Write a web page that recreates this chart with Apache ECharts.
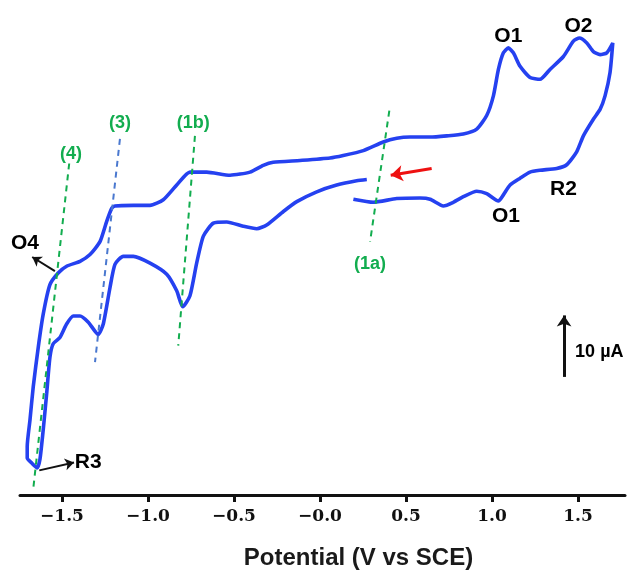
<!DOCTYPE html>
<html>
<head>
<meta charset="utf-8">
<script src="https://cdn.jsdelivr.net/npm/echarts@6/dist/echarts.min.js"></script>
<style>
html,body{margin:0;padding:0;background:#fff;}
#chart{width:628px;height:575px;}
</style>
</head>
<body>
<div id="chart"></div>
<script>
// ---- Data (Potential in V vs SCE, current in µA, arbitrary offset) ----
// Scan 1: from start (~0.2 V) anodic to the switching potential
const scanAnodicPotential = [0.194,0.310,0.446,0.581,0.640,0.717,0.775,0.833,0.911,0.969,1.037,1.066,1.105,1.163,1.221,1.279,1.376,1.434,1.492,1.531,1.589,1.628,1.657,1.686,1.702];
const scanAnodicCurrent   = [48.1,47.6,48.2,48.3,48.1,47.0,47.6,48.5,49.4,49.0,47.8,48.8,50.4,51.5,52.5,52.8,53.1,53.7,55.8,58.4,61.1,62.7,64.9,68.7,73.5];
// Scan 2: upper branch back to the negative limit
const scanCathodicPotential = [1.667,1.628,1.589,1.551,1.508,1.473,1.415,1.337,1.279,1.221,1.163,1.124,1.095,1.066,1.037,1.008,0.969,0.911,0.833,0.737,0.640,0.523,0.446,0.368,0.252,0.135,0.058,-0.116,-0.272,-0.330,-0.407,-0.523,-0.659,-0.756,-0.833,-0.911,-0.988,-1.085,-1.192,-1.211,-1.240,-1.279,-1.337,-1.395,-1.473,-1.522,-1.570,-1.609,-1.638,-1.667,-1.686,-1.702,-1.702,-1.676,-1.644];
const scanCathodicCurrent   = [71.9,71.6,72.1,73.5,74.3,73.8,71.3,69.2,67.6,67.9,69.7,71.9,72.7,71.9,69.2,64.9,61.7,59.5,58.7,58.4,58.2,58.2,58.0,57.4,56.0,55.2,54.8,54.4,54.1,53.6,52.5,52.0,52.5,52.5,50.4,48.0,47.1,47.1,47.0,46.6,44.5,41.2,39.1,38.0,37.2,36.1,34.2,29.4,24.0,17.6,12.2,7.9,6.0,5.2,4.4];
// Scan 3: inner branch back towards the start
const scanReturnPotential = [-1.628,-1.609,-1.589,-1.570,-1.551,-1.512,-1.473,-1.434,-1.395,-1.347,-1.289,-1.260,-1.221,-1.192,-1.144,-1.085,-0.988,-0.891,-0.833,-0.798,-0.756,-0.717,-0.678,-0.620,-0.542,-0.446,-0.368,-0.310,-0.213,-0.135,-0.019,0.097,0.213,0.272];
const scanReturnCurrent   = [5.8,10.6,16.5,22.4,24.6,25.6,27.8,29.1,29.1,28.1,26.1,27.8,33.7,37.5,38.8,38.8,37.7,35.9,33.2,30.6,32.4,37.7,42.1,44.2,44.4,43.7,43.3,43.9,46.1,47.7,49.3,50.4,51.1,51.3];

const tickValues = [-1.5,-1.0,-0.5,0.0,0.5,1.0,1.5];
const tickLabels = ['\u22121.5','\u22121.0','\u22120.5','\u22120.0','0.5','1.0','1.5'];
const xTitle = 'Potential (V vs SCE)';

// Annotation texts: [potential, current, text]
const peakLabels = [[1.095,74.6,'O1'],[1.502,76.2,'O2'],[1.081,45.3,'O1'],[1.415,49.8,'R2'],[-1.715,41.0,'O4'],[-1.347,5.3,'R3']];
const processLabels = [[-1.448,55.5,'(4)'],[-1.163,60.5,'(3)'],[-0.737,60.5,'(1b)'],[0.291,37.5,'(1a)']];
const scaleLabel = [1.483,23.2,'10 \u00b5A'];
// Guide lines: [[V1,I1],[V2,I2]]
const guide4  = [[-1.458,53.9],[-1.667,1.0]];
const guide3  = [[-1.163,57.9],[-1.308,21.6]];
const guide1b = [[-0.727,58.4],[-0.824,24.3]];
const guide1a = [[0.403,62.5],[0.291,41.2]];
// Arrows: [[tail],[tip]]
const arrowScan = [[0.649,53.1],[0.411,52.0]];
const arrowO4 = [[-1.541,36.4],[-1.673,38.7]];
const arrowR3 = [[-1.632,4.0],[-1.430,5.3]];
const scaleBar = [[1.419,19.2],[1.419,29.2]];

const potential = scanAnodicPotential.concat(scanCathodicPotential, scanReturnPotential);
const current = scanAnodicCurrent.concat(scanCathodicCurrent, scanReturnCurrent);
const cvData = potential.map((v,i)=>[v,current[i]]);

const GREEN = '#12ad4f';
function line(seg, color, width, dashed, arrow, arrowSize){
  return [
    {coord: seg[0], symbol:'none', lineStyle:{color:color,width:width,type:dashed?[6,5]:'solid'}},
    {coord: seg[1], symbol: arrow?'arrow':'none', symbolSize: arrowSize||10}
  ];
}
const textItems = []
  .concat(peakLabels.map(d=>({value:[d[0],d[1]],name:d[2],label:{color:'#000',fontSize:21}})))
  .concat(processLabels.map(d=>({value:[d[0],d[1]],name:d[2],label:{color:GREEN,fontSize:18}})))
  .concat([{value:[scaleLabel[0],scaleLabel[1]],name:scaleLabel[2],label:{color:'#000',fontSize:18,position:'right',distance:0}}]);

const chart = echarts.init(document.getElementById('chart'), null, {renderer:'canvas'});
chart.setOption({
  animation:false,
  backgroundColor:'#ffffff',
  grid:{left:20,right:3,top:3,bottom:76,containLabel:false},
  xAxis:{
    type:'value', min:-1.744, max:1.773,
    axisLine:{show:true,onZero:false,lineStyle:{color:'#111',width:3}},
    axisTick:{show:true,customValues:tickValues,length:7,lineStyle:{color:'#111',width:3}},
    axisLabel:{show:true,customValues:tickValues,margin:13,
      formatter:function(v){let k=0,b=1e9;tickValues.forEach((t,i)=>{if(Math.abs(t-v)<b){b=Math.abs(t-v);k=i;}});return tickLabels[k];},
      fontFamily:'DejaVu Serif',fontWeight:'bold',fontSize:17,color:'#111'},
    splitLine:{show:false},
    name:xTitle, nameLocation:'middle', nameGap:51,
    nameTextStyle:{fontFamily:'Liberation Sans',fontWeight:'bold',fontSize:24,color:'#1a1a1a',padding:[0,0,0,72]}
  },
  yAxis:{type:'value',min:0,max:80,show:false,splitLine:{show:false}},
  series:[
    {
      type:'line', name:'CV', data:cvData, smooth:0.2, showSymbol:false, symbol:'none',
      lineStyle:{color:'#2541f0',width:3.6}, z:3
    },
    {
      type:'scatter', name:'annotations', data:textItems, symbolSize:0,
      itemStyle:{color:'rgba(0,0,0,0)',opacity:1}, z:5,
      label:{show:true,formatter:'{b}',position:'inside',fontFamily:'Liberation Sans',fontWeight:'bold',opacity:1,textBorderWidth:0},
      emphasis:{disabled:true},
      markLine:{
        silent:true, symbol:['none','none'], label:{show:false}, animation:false,
        emphasis:{disabled:true},
        data:[
          line(guide4,GREEN,2,true),
          line(guide3,'#4a78cf',2,true),
          line(guide1b,GREEN,2,true),
          line(guide1a,GREEN,2,true),
          line(arrowScan,'#ee1111',3,false,true,12),
          line(arrowO4,'#111',2,false,true,9),
          line(arrowR3,'#111',2,false,true,9),
          line(scaleBar,'#111',3,false,true,11)
        ]
      }
    }
  ]
});
</script>
</body>
</html>
